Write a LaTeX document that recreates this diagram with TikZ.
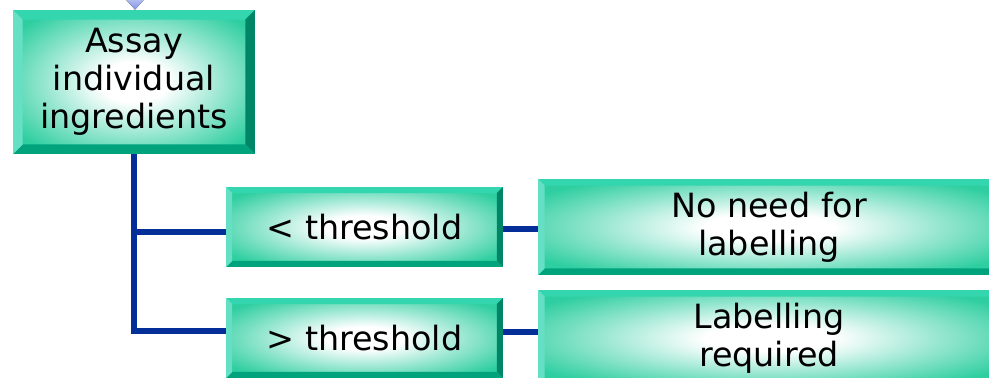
\documentclass[tikz,border=0pt]{standalone}
\usepackage{fontspec}
\setmainfont{DejaVu Sans}
\usetikzlibrary{calc}
\definecolor{facecol}{RGB}{46,206,160}
\definecolor{bvtop}{RGB}{51,214,174}
\definecolor{bvleft}{RGB}{102,224,196}
\definecolor{bvright}{RGB}{0,134,102}
\definecolor{bvbottom}{RGB}{0,163,124}
\definecolor{linecol}{RGB}{4,46,152}
\definecolor{arrtop}{RGB}{225,228,252}
\definecolor{arrbot}{RGB}{130,148,228}
\pgfdeclareradialshading{glow}{\pgfpoint{0bp}{0bp}}{%
  color(0bp)=(white); color(7bp)=(white); color(30bp)=(facecol); color(50bp)=(facecol)}
\newcommand{\drawbevels}[1]{%
  \fill[bvtop] (path picture bounding box.north west) -- (path picture bounding box.north east)
    -- ([xshift=-#1,yshift=-#1]path picture bounding box.north east)
    -- ([xshift=#1,yshift=-#1]path picture bounding box.north west) -- cycle;
  \fill[bvright] (path picture bounding box.north east) -- (path picture bounding box.south east)
    -- ([xshift=-#1,yshift=#1]path picture bounding box.south east)
    -- ([xshift=-#1,yshift=-#1]path picture bounding box.north east) -- cycle;
  \fill[bvbottom] (path picture bounding box.south east) -- (path picture bounding box.south west)
    -- ([xshift=#1,yshift=#1]path picture bounding box.south west)
    -- ([xshift=-#1,yshift=#1]path picture bounding box.south east) -- cycle;
  \fill[bvleft] (path picture bounding box.south west) -- (path picture bounding box.north west)
    -- ([xshift=#1,yshift=-#1]path picture bounding box.north west)
    -- ([xshift=#1,yshift=#1]path picture bounding box.south west) -- cycle;
}
\tikzset{
  bevbox/.style={rectangle, inner sep=0pt, shading=glow,
    align=center, font=\fontsize{19}{21.5}\selectfont,
    path picture={\drawbevels{#1}}},
  bevbox/.default=0.12cm,
  conn/.style={draw=linecol, line width=0.12cm},
}
\begin{document}
\begin{tikzpicture}[x=0.02cm,y=-0.02cm]
\useasboundingbox (0,0) rectangle (989,378);
\node[bevbox=0.19cm, minimum width=4.84cm, minimum height=2.88cm] (box1) at (134,82) {Assay\\individual\\ingredients};
\node[bevbox=0.12cm, minimum width=5.54cm, minimum height=1.6cm] (box2) at (364.5,227) {< threshold};
\node[bevbox=0.12cm, minimum width=5.54cm, minimum height=1.6cm] (box3) at (364.5,338) {> threshold};
\node[bevbox=0.13cm, minimum width=9.24cm, minimum height=1.92cm] (box4) at (769,227) {No need for\\labelling};
\node[bevbox=0.13cm, minimum width=9.24cm, minimum height=1.92cm] (box5) at (769,338) {Labelling\\required};
% incoming arrow tip from above
\coordinate (tip) at ([xshift=0.02cm]box1.north);
\fill[top color=arrtop, bottom color=arrbot] ([xshift=-0.36cm,yshift=0.4cm]tip) -- ([xshift=0.36cm,yshift=0.4cm]tip) -- (tip) -- cycle;
% connectors
\coordinate (a2) at ([yshift=-0.1cm]box2.west);
\coordinate (a3) at ([yshift=0.14cm]box3.west);
\draw[conn] (box1.south) |- (a3);
\draw[conn] (a2 -| box1.south) -- (a2);
\coordinate (b2) at ([yshift=-0.04cm]box2.east);
\coordinate (b3) at ([yshift=0.12cm]box3.east);
\draw[conn] (b2) -- (b2 -| box4.west);
\draw[conn] (b3) -- (b3 -| box5.west);
\end{tikzpicture}
\end{document}
